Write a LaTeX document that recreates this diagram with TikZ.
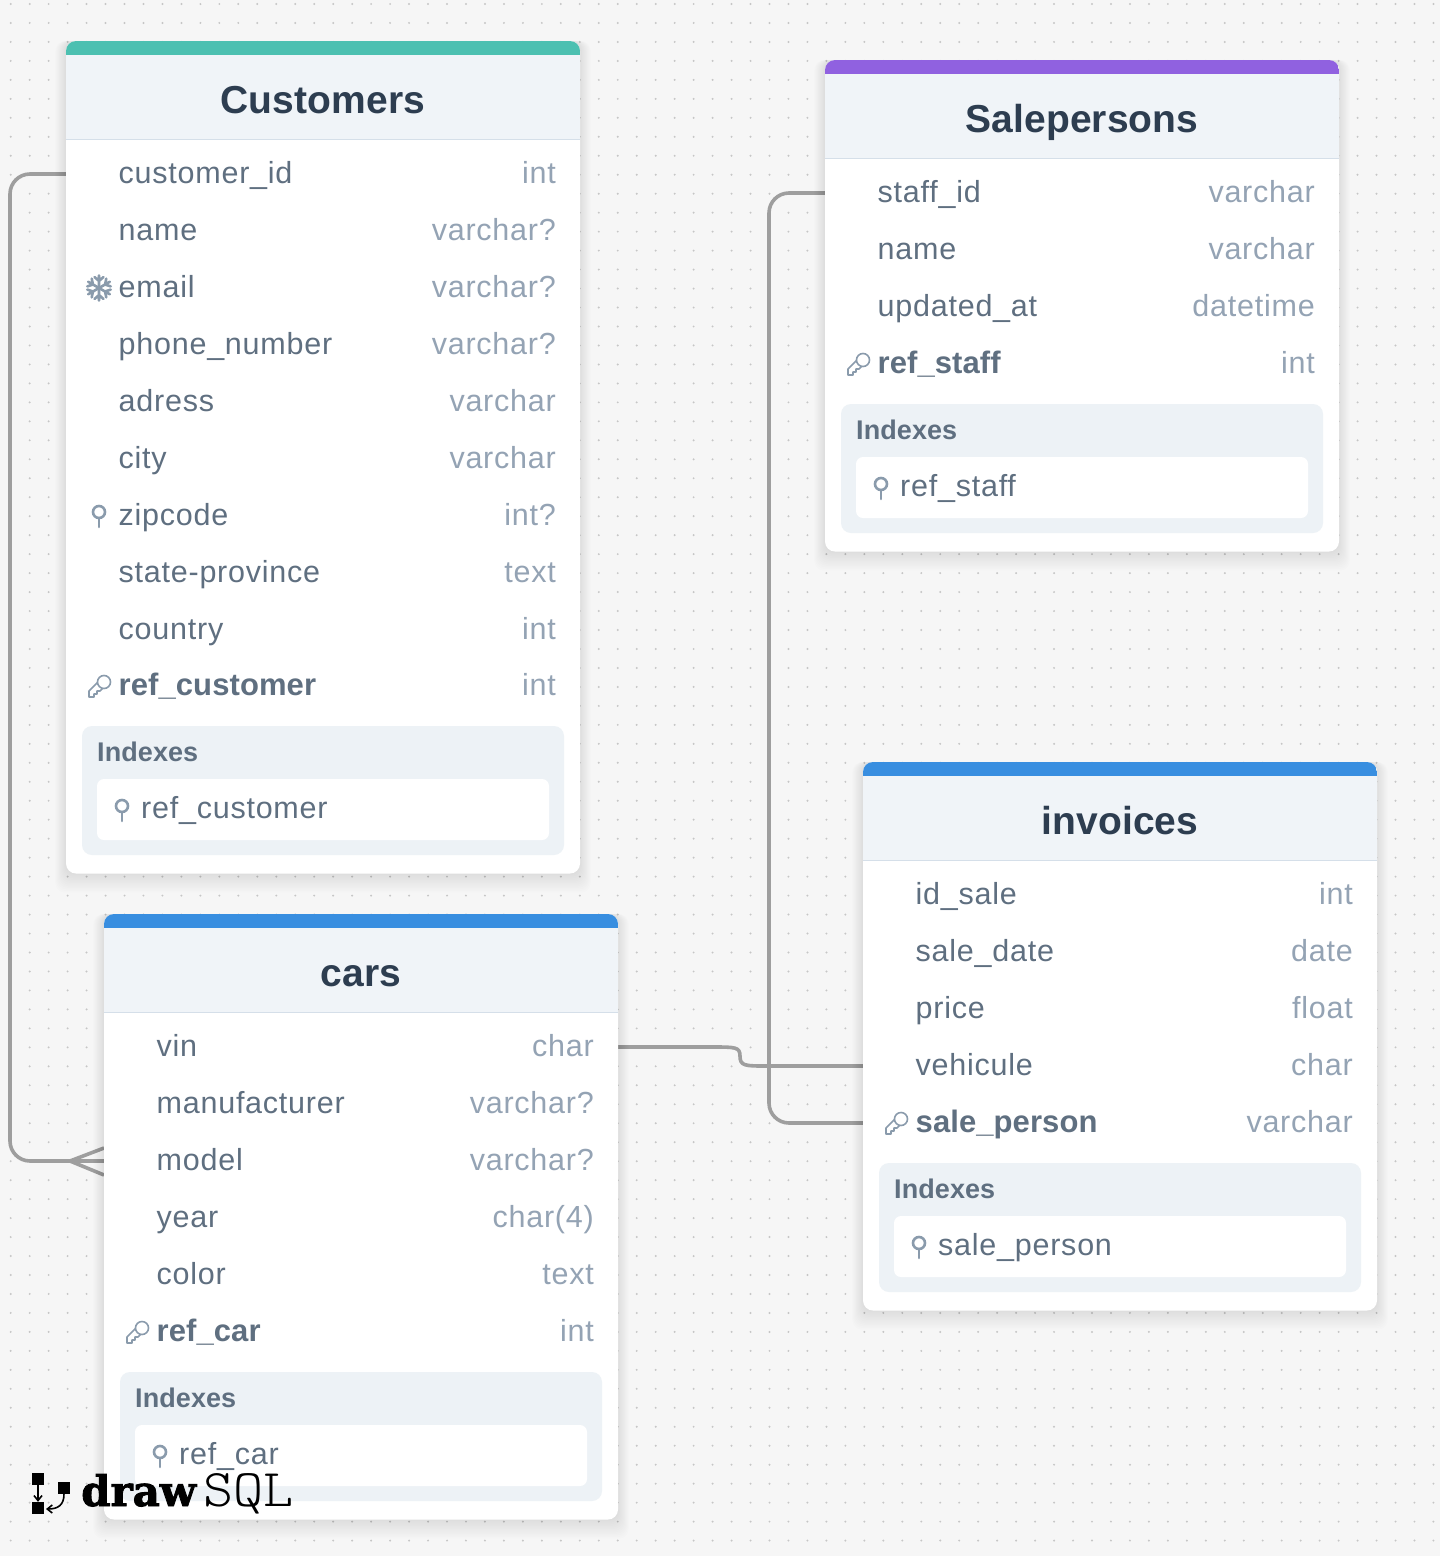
\documentclass[tikz,border=0pt]{standalone}
\usepackage{fontspec}
\usetikzlibrary{arrows.meta}
\setmainfont[LetterSpace=2.5,BoldFeatures={LetterSpace=0.3}]{Liberation Sans}
\newfontfamily\drawfont[FakeBold=2]{DejaVu Serif}
\newfontfamily\sqlfont[FakeStretch=1.08]{Latin Modern Mono Light}
\definecolor{bgc}{HTML}{F6F6F6}
\definecolor{dotc}{HTML}{C6C6C6}
\definecolor{linec}{HTML}{9E9E9E}
\definecolor{headc}{HTML}{F0F4F8}
\definecolor{sepc}{HTML}{D5DFE9}
\definecolor{idxc}{HTML}{EDF2F6}
\definecolor{namec}{HTML}{5F6F80}
\definecolor{typec}{HTML}{94A3B4}
\definecolor{titlec}{HTML}{2D3D50}
\definecolor{iconc}{HTML}{8A9BAC}
\definecolor{tealc}{HTML}{4CC0B1}
\definecolor{purplec}{HTML}{9061E0}
\definecolor{bluec}{HTML}{388EE0}
\pgfdeclarelayer{dots}
\pgfdeclarelayer{conn}
\pgfsetlayers{dots,conn,main}
\tikzset{
  x=1pt,y=-1pt,
  card/.style={fill=white,rounded corners=10pt,minimum width=514pt,inner sep=0pt,outer sep=0pt,anchor=north west},
  titletext/.style={font=\fontsize{39}{39}\selectfont\bfseries,text=titlec,anchor=base,inner sep=0pt},
  rowname/.style={font=\fontsize{30.5}{30}\selectfont,text=namec,anchor=base west,inner sep=0pt},
  rowkey/.style={font=\fontsize{31}{30}\selectfont\bfseries,text=namec,anchor=base west,inner sep=0pt},
  rowtype/.style={font=\fontsize{30.5}{30}\selectfont,text=typec,anchor=base east,inner sep=0pt},
  idxhead/.style={font=\fontsize{27}{27}\selectfont\bfseries,text=namec,anchor=base west,inner sep=0pt},
  conn/.style={draw=linec,line width=3.6pt},
  ico/.style={draw=iconc,line width=2.6pt,line cap=round},
}
% icons: #1 x of card, #2 row centre y
\newcommand\iconnone[2]{}
\newcommand\iconpinat[2]{%
  \draw[ico] (#1,#2-3) circle (6);
  \draw[ico] (#1,#2+3) -- (#1,#2+12);
}
\newcommand\iconidx[2]{\iconpinat{#1+33}{#2}}
\newcommand\iconkey[2]{%
  \begin{scope}[shift={(#1+33,#2+1)}]
    \draw[draw=iconc,line width=1.6pt,line join=round,fill=white]
      (0,-5) -- (-10,5) -- (-10,11) -- (-5,11) -- (-5,8) -- (-2,8) -- (-2,5) -- (1,5) -- (5,1) -- cycle;
    \draw[draw=iconc,line width=1.6pt,fill=white] (5,-4) circle (6.5);
  \end{scope}
}
\newcommand\iconsnow[2]{%
  \begin{scope}[shift={(#1+33,#2+1)}]
    \foreach \a in {30,90,150,210,270,330}{
      \draw[ico,rotate=\a] (0,0) -- (12.5,0) (11,-4.5) -- (7,0) -- (11,4.5);
    }
  \end{scope}
}
% #1 id, #2 x0, #3 y0, #4 colour, #5 title, #6 number of rows, #7 rows, #8 index name
\newcommand\dbtable[8]{%
  \pgfmathsetmacro\lastc{#3+132+57*(#6-1)-(#6==10)}
  \pgfmathsetmacro\cardh{\lastc+188.5-#3}
  \foreach \s in {1,...,12}{
    \fill[black,opacity=.009,rounded corners=10pt] (#2-\s*.9,#3) rectangle (#2+514+\s*.9,#3+\cardh+\s*1.6);
  }
  \node[card,minimum height=\cardh pt] (#1) at (#2,#3) {};
  \begin{scope}
    \clip[rounded corners=10pt] (#2,#3) rectangle (#2+514,#3+\cardh);
    \fill[headc] (#2,#3+14) rectangle (#2+514,#3+98);
    \fill[#4] (#2,#3) rectangle (#2+514,#3+14);
    \fill[sepc] (#2,#3+97.5) rectangle (#2+514,#3+99);
  \end{scope}
  \node[titletext] (#1-title) at (#2+257,#3+72.5) {#5};
  \foreach \rn/\rt/\ri/\rs [count=\k] in {#7}{
    \pgfmathsetmacro\rc{#3+132+57*(\k-1)-(\k==10)}
    \coordinate (#1-w\k) at (#2,\rc+1);
    \coordinate (#1-e\k) at (#2+514,\rc+1);
    \node[\rs] (#1-n\k) at (#2+52.5,\rc+10.5) {\rn};
    \node[rowtype] (#1-t\k) at (#2+490,\rc+10.5) {\rt};
    \csname icon\ri\endcsname{#2}{\rc}
  }
  \fill[idxc,rounded corners=10pt] (#2+16,\lastc+41) rectangle (#2+498,\lastc+170);
  \node[idxhead] (#1-ih) at (#2+31,\lastc+76) {Indexes};
  \fill[white,rounded corners=7pt] (#2+31,\lastc+94) rectangle (#2+483,\lastc+155);
  \iconpinat{#2+56}{\lastc+124}
  \node[rowname] (#1-in) at (#2+75,\lastc+133.7) {#8};
}
\begin{document}
\begin{tikzpicture}
\useasboundingbox (0,0) rectangle (1440,1556);
\begin{pgfonlayer}{dots}
  \fill[bgc] (0,0) rectangle (1440,1556);
  \foreach \i in {0,...,75}{
    \draw[dotc,line width=2.2pt,line cap=round,dash pattern=on 0pt off 18.97pt] (10.7+\i*18.97,4) -- (10.7+\i*18.97,1556);
  }
\end{pgfonlayer}

\dbtable{customers}{66}{41}{tealc}{Customers}{10}{%
  customer\_id/int/none/rowname,
  name/varchar?/none/rowname,
  email/varchar?/snow/rowname,
  phone\_number/varchar?/none/rowname,
  adress/varchar/none/rowname,
  city/varchar/none/rowname,
  zipcode/int?/idx/rowname,
  state-province/text/none/rowname,
  country/int/none/rowname,
  ref\_customer/int/key/rowkey}{ref\_customer}

\dbtable{sale}{825}{60}{purplec}{Salepersons}{4}{%
  staff\_id/varchar/none/rowname,
  name/varchar/none/rowname,
  updated\_at/datetime/none/rowname,
  ref\_staff/int/key/rowkey}{ref\_staff}

\dbtable{inv}{863}{762}{bluec}{invoices}{5}{%
  id\_sale/int/none/rowname,
  sale\_date/date/none/rowname,
  price/float/none/rowname,
  vehicule/char/none/rowname,
  sale\_person/varchar/key/rowkey}{sale\_person}

\dbtable{cars}{104}{914}{bluec}{cars}{6}{%
  vin/char/none/rowname,
  manufacturer/varchar?/none/rowname,
  model/varchar?/none/rowname,
  year/char(4)/none/rowname,
  color/text/none/rowname,
  ref\_car/int/key/rowkey}{ref\_car}

% connectors
\coordinate (colA) at (10,0);
\coordinate (colC) at (769,0);
\coordinate (colF) at (70,0);
\coordinate (crow) at (colF |- cars-w3);
\coordinate (crowU) at ([yshift=13pt]cars-w3);
\coordinate (crowD) at ([yshift=-14pt]cars-w3);
\begin{pgfonlayer}{conn}
  \draw[conn,rounded corners=20pt] (customers-w1) -- (colA |- customers-w1) -- (colA |- cars-w3) -- (cars-w3);
  \draw[conn] (crow) -- (crowU) (crow) -- (crowD);
  \draw[conn,rounded corners=20pt] (sale-w1) -- (colC |- sale-w1) -- (colC |- inv-w5) -- (inv-w5);
  \draw[conn] (cars-e1) -- (713,1047) .. controls (735,1047) and (740,1047) .. (740,1056)
     .. controls (740,1066) and (745,1066) .. (767,1066) -- (inv-w4);
\end{pgfonlayer}

% logo
\node[fill=black,minimum size=12pt,inner sep=0pt] (lgA) at (38,1478.5) {};
\node[fill=black,minimum size=12pt,inner sep=0pt] (lgB) at (38,1508) {};
\node[fill=black,minimum size=12pt,inner sep=0pt] (lgC) at (64,1488) {};
\draw[line width=1.6pt,-{Straight Barb[length=5pt,width=8pt]}] (lgA) -- (lgB);
\draw[line width=1.6pt,-{Straight Barb[length=5pt,width=8pt]}] (lgC.south) .. controls (64,1505) and (58,1509) .. (46,1509);
\node[font=\drawfont\fontsize{42}{42}\selectfont\bfseries,text=black,anchor=base west,inner sep=0pt] (lgdraw) at (81,1506) {draw};
\node[font=\sqlfont\fontsize{53}{53}\selectfont,text=black,anchor=base west,inner sep=0pt] (lgsql) at (203,1506) {SQL};
\end{tikzpicture}
\end{document}
